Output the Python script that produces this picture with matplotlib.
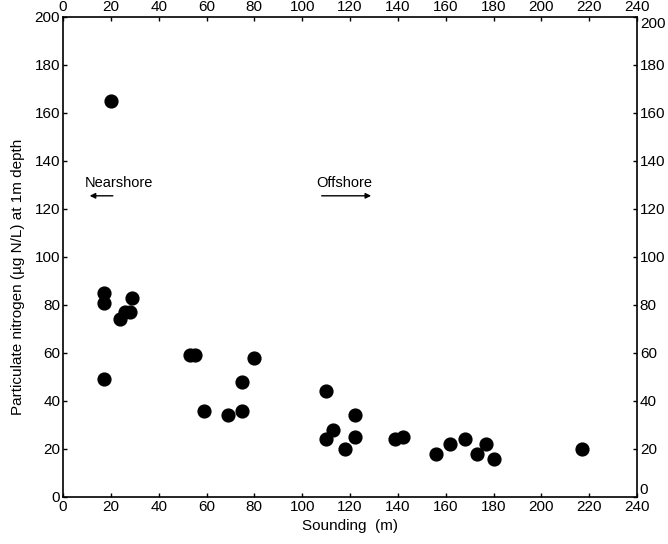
import matplotlib.pyplot as plt

plt.rcParams['font.family'] = ['Liberation Sans', 'DejaVu Sans']

# sounding depth (m) and particulate nitrogen (ug N/L) at 1 m depth
sounding = [20, 17, 17, 24, 26, 28, 29, 17, 53, 55, 59, 69, 75, 75, 80,
            110, 110, 113, 118, 122, 122, 139, 142, 156, 162, 168, 173, 177, 180, 217]
nitrogen = [165, 85, 81, 74, 77, 77, 83, 49, 59, 59, 36, 34, 36, 48, 58,
            44, 24, 28, 20, 25, 34, 24, 25, 18, 22, 24, 18, 22, 16, 20]

ticks_x = list(range(0, 241, 20))
ticks_y = list(range(0, 201, 20))

fig = plt.figure(figsize=(6.68, 5.44), dpi=100)
ax = fig.add_axes([63 / 668, 1 - 497 / 544, 574 / 668, 480 / 544])

ax.scatter(sounding, nitrogen, s=85, color='black', zorder=3)

ax.set_xlim(0, 240)
ax.set_ylim(0, 200)
ax.set_xticks(ticks_x)
ax.set_yticks(ticks_y)
ax.tick_params(direction='in', length=3, width=1, labelsize=11,
               top=True, right=True, labeltop=True, labelright=True, pad=2)
for s in ax.spines.values():
    s.set_linewidth(1.2)

# corner labels on the right sit off the corners, like the original
yt = ax.yaxis.get_major_ticks()
yt[0].label2.set_va('bottom')
yt[-1].label2.set_va('top')

ax.set_xlabel('Sounding  (m)', fontsize=11, labelpad=4)
fig.text(18 / 668, 1 - 277 / 544, 'Particulate nitrogen (µg N/L) at 1m depth',
         rotation=90, ha='center', va='center', fontsize=11)

# nearshore / offshore labels with arrows
ax.text(9, 131, 'Nearshore', fontsize=10.5, ha='left', va='center')
ax.annotate('', xy=(10, 125.5), xytext=(22, 125.5),
            arrowprops=dict(arrowstyle='-|>', color='black', lw=1, mutation_scale=8))
ax.text(106, 131, 'Offshore', fontsize=10.5, ha='left', va='center')
ax.annotate('', xy=(130, 125.5), xytext=(107, 125.5),
            arrowprops=dict(arrowstyle='-|>', color='black', lw=1, mutation_scale=8))

fig.savefig('out.png', dpi=100)
